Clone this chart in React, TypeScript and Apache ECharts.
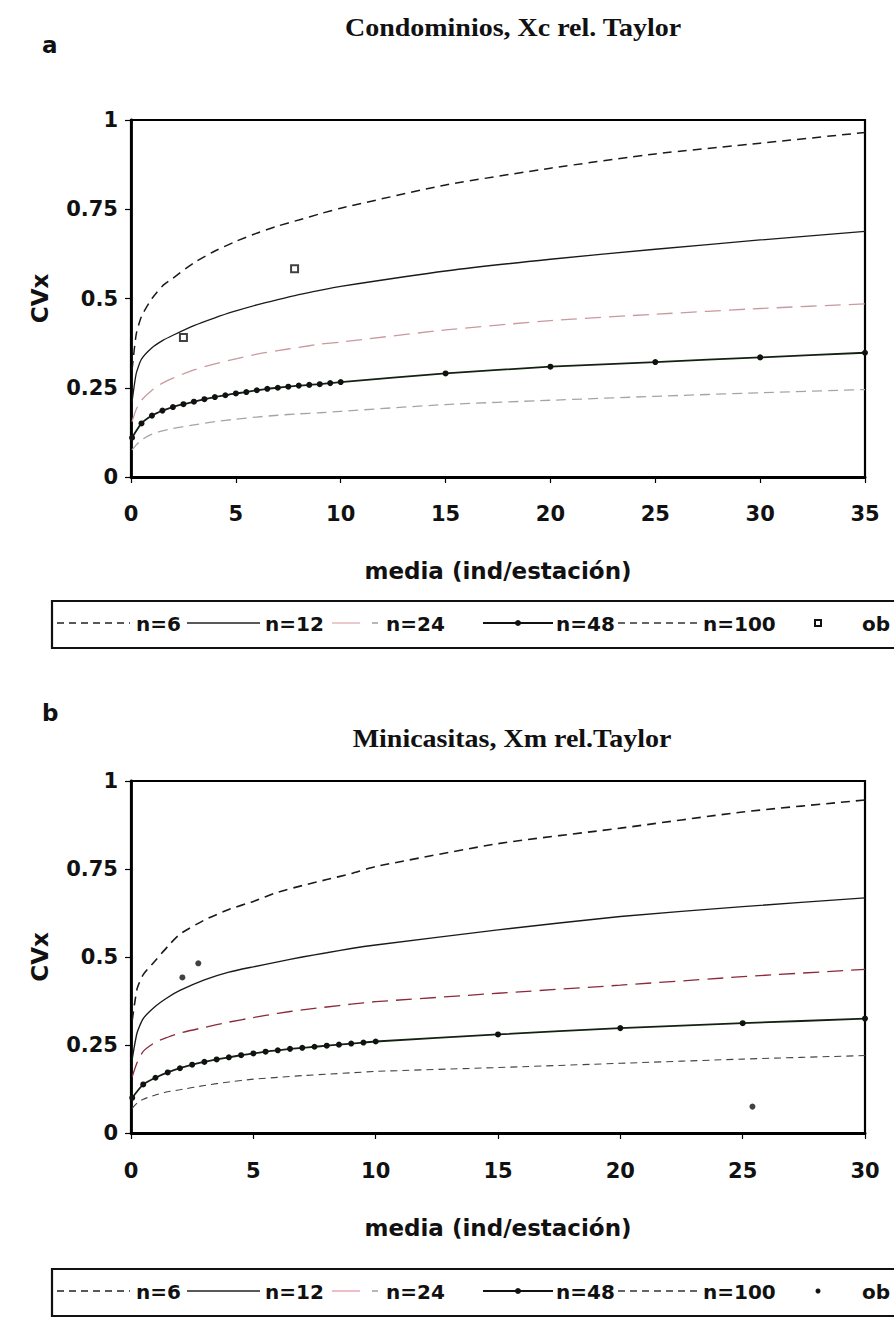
import React, { useEffect, useRef } from "react";
import * as echarts from "echarts";

// ---------- Chart a: Condominios ----------
const XA = [0.05, 0.25, 0.5, 1, 1.5, 2, 3, 4, 5, 6, 7, 8, 9, 10, 15, 20, 25, 30, 35];
const A_N6 = [0.3, 0.4, 0.45, 0.5, 0.535, 0.557, 0.6, 0.633, 0.66, 0.683, 0.703, 0.72, 0.737, 0.753, 0.818, 0.865, 0.905, 0.935, 0.965];
const A_N12 = [0.21, 0.29, 0.33, 0.362, 0.382, 0.397, 0.424, 0.446, 0.465, 0.482, 0.497, 0.511, 0.523, 0.534, 0.577, 0.61, 0.638, 0.664, 0.688];
const A_N24 = [0.155, 0.19, 0.215, 0.243, 0.263, 0.277, 0.3, 0.317, 0.331, 0.344, 0.354, 0.363, 0.372, 0.378, 0.412, 0.438, 0.456, 0.472, 0.485];
const A_N100 = [0.076, 0.09, 0.104, 0.12, 0.129, 0.136, 0.146, 0.155, 0.162, 0.168, 0.173, 0.177, 0.18, 0.184, 0.203, 0.215, 0.226, 0.236, 0.245];
const XA48 = [0.05, 0.5, 1, 1.5, 2, 2.5, 3, 3.5, 4, 4.5, 5, 5.5, 6, 6.5, 7, 7.5, 8, 8.5, 9, 9.5, 10, 15, 20, 25, 30, 35];
const A_N48 = [0.11, 0.15, 0.172, 0.186, 0.196, 0.204, 0.211, 0.218, 0.224, 0.229, 0.234, 0.238, 0.243, 0.247, 0.25, 0.253, 0.256, 0.258, 0.26, 0.263, 0.266, 0.29, 0.309, 0.322, 0.335, 0.348];
const A_OBS_X = [2.5, 7.8];
const A_OBS_Y = [0.391, 0.583];

// ---------- Chart b: Minicasitas ----------
const XB = [0.05, 0.25, 0.5, 1, 1.5, 2, 3, 4, 5, 6, 7, 8, 9, 10, 15, 20, 25, 30];
const B_N6 = [0.32, 0.41, 0.45, 0.49, 0.53, 0.565, 0.605, 0.635, 0.658, 0.684, 0.703, 0.72, 0.737, 0.757, 0.822, 0.866, 0.912, 0.946];
const B_N12 = [0.21, 0.285, 0.325, 0.36, 0.385, 0.405, 0.435, 0.457, 0.472, 0.486, 0.5, 0.512, 0.524, 0.534, 0.577, 0.615, 0.643, 0.668];
const B_N24 = [0.16, 0.2, 0.232, 0.258, 0.272, 0.284, 0.3, 0.315, 0.328, 0.34, 0.35, 0.358, 0.366, 0.373, 0.397, 0.42, 0.444, 0.465];
const B_N100 = [0.07, 0.085, 0.096, 0.108, 0.117, 0.123, 0.135, 0.145, 0.153, 0.158, 0.163, 0.167, 0.171, 0.175, 0.186, 0.198, 0.21, 0.22];
const XB48 = [0.05, 0.5, 1, 1.5, 2, 2.5, 3, 3.5, 4, 4.5, 5, 5.5, 6, 6.5, 7, 7.5, 8, 8.5, 9, 9.5, 10, 15, 20, 25, 30];
const B_N48 = [0.1, 0.138, 0.157, 0.172, 0.184, 0.194, 0.202, 0.209, 0.215, 0.221, 0.226, 0.231, 0.235, 0.239, 0.242, 0.245, 0.248, 0.251, 0.254, 0.257, 0.26, 0.28, 0.298, 0.312, 0.325];
const B_OBS_X = [2.1, 2.75, 25.4];
const B_OBS_Y = [0.442, 0.482, 0.075];

const TITLES = ["Condominios, Xc rel. Taylor", "Minicasitas, Xm rel.Taylor"];
const PANELS = ["a", "b"];
const LEGEND_NAMES = ["n=6", "n=12", "n=24", "n=48", "n=100", "ob"];
const X_NAME = "media (ind/estación)";
const Y_NAME = "CVx";

const zip = (xs: number[], ys: number[]) => xs.map((x, i) => [x, ys[i]]);

const SANS = "DejaVu Sans";

function lineSeries(name: string, idx: number, xs: number[], ys: number[], color: string, dash: any, width: number) {
  return {
    type: "line",
    name,
    xAxisIndex: idx,
    yAxisIndex: idx,
    data: zip(xs, ys),
    showSymbol: false,
    symbol: "none",
    smooth: 0.2,
    lineStyle: { color, type: dash, width },
    z: 3,
  };
}

function legendGraphics(y: number, obsKind: "square" | "dot", pink: string) {
  const els: any[] = [];
  els.push({
    type: "rect",
    shape: { x: 52, y: y - 21, width: 860, height: 47 },
    style: { fill: "none", stroke: "#111", lineWidth: 2.2 },
  });
  const ly = y + 1;
  els.push({ type: "line", shape: { x1: 57, y1: ly, x2: 130, y2: ly }, style: { stroke: "#222", lineWidth: 1.4, lineDash: [7, 5] } });
  els.push({ type: "line", shape: { x1: 187, y1: ly, x2: 260, y2: ly }, style: { stroke: "#222", lineWidth: 1.4 } });
  els.push({ type: "line", shape: { x1: 332, y1: ly, x2: 360, y2: ly }, style: { stroke: pink, lineWidth: 1.4 } });
  els.push({ type: "line", shape: { x1: 372, y1: ly, x2: 378, y2: ly }, style: { stroke: "#999", lineWidth: 1.4 } });
  els.push({ type: "line", shape: { x1: 483, y1: ly, x2: 553, y2: ly }, style: { stroke: "#111", lineWidth: 2 } });
  els.push({ type: "circle", shape: { cx: 518, cy: ly, r: 3 }, style: { fill: "#111" } });
  els.push({ type: "line", shape: { x1: 618, y1: ly, x2: 698, y2: ly }, style: { stroke: "#333", lineWidth: 1.3, lineDash: [7, 5] } });
  if (obsKind === "square") {
    els.push({ type: "rect", shape: { x: 815, y: ly - 3, width: 6, height: 6 }, style: { fill: "#fff", stroke: "#111", lineWidth: 2 } });
  } else {
    els.push({ type: "circle", shape: { cx: 818, cy: ly, r: 2.5 }, style: { fill: "#111" } });
  }
  const xs = [136, 265, 386, 556, 703, 862];
  LEGEND_NAMES.forEach((t, i) => {
    els.push({
      type: "text",
      x: xs[i],
      y: y + 2,
      style: {
        text: t,
        font: `bold 20px "${SANS}"`,
        fill: "#111",
        textAlign: "left",
        textVerticalAlign: "middle",
        align: "left",
        verticalAlign: "middle",
      },
    });
  });
  return els;
}

function titleText(text: string, x: number, y: number) {
  return {
    type: "text",
    x,
    y,
    scaleX: 1.12,
    style: {
      text,
      font: 'bold 25px "Liberation Serif"',
      fill: "#111",
      textAlign: "center",
      textVerticalAlign: "middle",
      align: "center",
      verticalAlign: "middle",
    },
  };
}

function panelText(text: string, x: number, y: number) {
  return {
    type: "text",
    x,
    y,
    style: {
      text,
      font: `bold 23px "${SANS}"`,
      fill: "#111",
      textAlign: "left",
      textVerticalAlign: "middle",
      align: "left",
      verticalAlign: "middle",
    },
  };
}

function xAxisCfg(idx: number, max: number, nameGap: number, labelMargin: number) {
  return {
    type: "value",
    gridIndex: idx,
    min: 0,
    max,
    interval: 5,
    name: X_NAME,
    nameLocation: "middle",
    nameGap,
    nameTextStyle: { fontFamily: SANS, fontWeight: "bold", fontSize: 23, color: "#111" },
    axisLine: { show: true, onZero: false, lineStyle: { color: "#000", width: 2.8 } },
    axisTick: { show: true, inside: false, length: 6, lineStyle: { color: "#000", width: 1.2 } },
    axisLabel: { fontFamily: SANS, fontWeight: "bold", fontSize: 21, color: "#111", margin: labelMargin },
    splitLine: { show: false },
  };
}

function yAxisCfg(idx: number) {
  return {
    type: "value",
    gridIndex: idx,
    min: 0,
    max: 1,
    interval: 0.25,
    name: Y_NAME,
    nameLocation: "middle",
    nameGap: 80,
    nameTextStyle: { fontFamily: SANS, fontWeight: "bold", fontSize: 23, color: "#111" },
    axisLine: { show: true, onZero: false, lineStyle: { color: "#000", width: 2.8 } },
    axisTick: { show: true, inside: false, length: 6, lineStyle: { color: "#000", width: 1.2 } },
    axisLabel: { fontFamily: SANS, fontWeight: "bold", fontSize: 21, color: "#111", margin: 13 },
    splitLine: { show: false },
  };
}

export default function App() {
  const ref = useRef<HTMLDivElement>(null);
  useEffect(() => {
    document.body.style.margin = "0";
    if (!ref.current) return;
    const chart = echarts.init(ref.current, null, { renderer: "svg" });
    const option: any = {
      animation: false,
      backgroundColor: "#ffffff",
      grid: [
        { left: 131, top: 120, width: 734, height: 357, show: true, borderColor: "#000", borderWidth: 2.2, backgroundColor: "transparent" },
        { left: 131, top: 781, width: 734, height: 352, show: true, borderColor: "#000", borderWidth: 2.2, backgroundColor: "transparent" },
      ],
      xAxis: [xAxisCfg(0, 35, 82, 26), xAxisCfg(1, 30, 83, 27)],
      yAxis: [yAxisCfg(0), yAxisCfg(1)],
      series: [
        lineSeries("n=6", 0, XA, A_N6, "#1a1a1a", [9, 6], 1.5),
        lineSeries("n=12", 0, XA, A_N12, "#1a1a1a", "solid", 1.3),
        lineSeries("n=24", 0, XA, A_N24, "#c99a9e", [16, 8], 1.3),
        lineSeries("n=100", 0, XA, A_N100, "#a5a5a5", [10, 6], 1.3),
        {
          type: "line",
          name: "n=48",
          xAxisIndex: 0,
          yAxisIndex: 0,
          data: zip(XA48, A_N48),
          smooth: 0.2,
          symbol: "circle",
          symbolSize: 6,
          showSymbol: true,
          itemStyle: { color: "#111" },
          lineStyle: { color: "#112211", width: 1.8 },
          z: 4,
        },
        {
          type: "scatter",
          name: "ob",
          xAxisIndex: 0,
          yAxisIndex: 0,
          data: zip(A_OBS_X, A_OBS_Y),
          symbol: "rect",
          symbolSize: 7,
          itemStyle: { color: "#fff", borderColor: "#111", borderWidth: 2 },
          z: 5,
        },
        lineSeries("n=6", 1, XB, B_N6, "#1a1a1a", [9, 6], 1.6),
        lineSeries("n=12", 1, XB, B_N12, "#1a1a1a", "solid", 1.4),
        lineSeries("n=24", 1, XB, B_N24, "#8a2a3a", [16, 8], 1.3),
        lineSeries("n=100", 1, XB, B_N100, "#444", [7, 5], 1.1),
        {
          type: "line",
          name: "n=48",
          xAxisIndex: 1,
          yAxisIndex: 1,
          data: zip(XB48, B_N48),
          smooth: 0.2,
          symbol: "circle",
          symbolSize: 6,
          showSymbol: true,
          itemStyle: { color: "#111" },
          lineStyle: { color: "#112211", width: 1.8 },
          z: 4,
        },
        {
          type: "scatter",
          name: "ob",
          xAxisIndex: 1,
          yAxisIndex: 1,
          data: zip(B_OBS_X, B_OBS_Y),
          symbol: "circle",
          symbolSize: 6,
          itemStyle: { color: "#111" },
          z: 5,
        },
      ],
      graphic: [
        titleText(TITLES[0], 513, 28),
        panelText(PANELS[0], 42, 45),
        ...legendGraphics(622, "square", "#e2b4b8"),
        panelText(PANELS[1], 42, 713),
        titleText(TITLES[1], 512, 739),
        ...legendGraphics(1290, "dot", "#e8a0b0"),
      ],
    };
    chart.setOption(option);
    return () => chart.dispose();
  }, []);
  return <div ref={ref} style={{ width: 894, height: 1317, background: "#fff" }} />;
}
